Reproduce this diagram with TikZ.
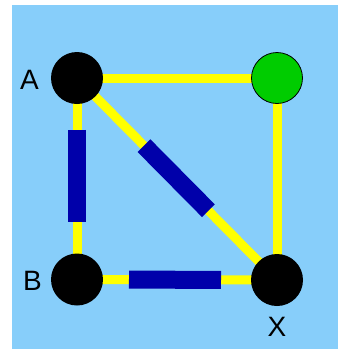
\documentclass[tikz,border=0pt]{standalone}
\usepackage{fontspec}
\setmainfont{Liberation Sans}
\usetikzlibrary{calc}
\pgfdeclarelayer{background}
\pgfsetlayers{background,main}
\definecolor{bg}{RGB}{135,206,250}
\definecolor{edgey}{RGB}{255,255,0}
\definecolor{barb}{RGB}{0,0,170}
\definecolor{greenn}{RGB}{0,204,0}
\begin{document}
\begin{tikzpicture}[x=1pt,y=-1pt,
  vert/.style={circle,fill=black,minimum size=52pt,inner sep=0pt},
  gvert/.style={circle,fill=greenn,draw=black,line width=0.8pt,minimum size=51pt,inner sep=0pt},
  edgeline/.style={draw=edgey,line width=9pt},
  bar/.style={draw=barb,line width=18pt},
  lbl/.style={font=\fontsize{28}{28}\selectfont,inner sep=0pt}]
\useasboundingbox (0,0) rectangle (338,349);
% vertices
\node[vert] (A) at (77,78) {};
\node[gvert] (G) at (277,78) {};
\node[vert] (B) at (77,279.5) {};
\node[vert] (X) at (277,280) {};
% labels
\node[lbl] (la) at (29.5,79.5) {A};
\node[lbl] (lb) at (32.5,280.5) {B};
\node[lbl] (lx) at (277,327) {X};
\begin{pgfonlayer}{background}
\fill[bg] (12,5) rectangle (338,349);
% edges
\draw[edgeline] (A.center) -- (G.center);
\draw[edgeline] (G.center) -- (X.center);
\draw[edgeline] (A.center) -- (B.center);
\draw[edgeline] (B.center) -- (X.center);
\draw[edgeline] (A.center) -- (X.center);
% bars
\draw[bar] ($(A.center)!0.258!(B.center)$) -- ($(A.center)!0.715!(B.center)$);
\draw[bar] ($(B.center)!0.26!(X.center)$) -- ($(B.center)!0.72!(X.center)$);
\draw[bar] ($(A.center)!0.335!(X.center)$) -- ($(A.center)!0.657!(X.center)$);
\end{pgfonlayer}
\end{tikzpicture}
\end{document}
